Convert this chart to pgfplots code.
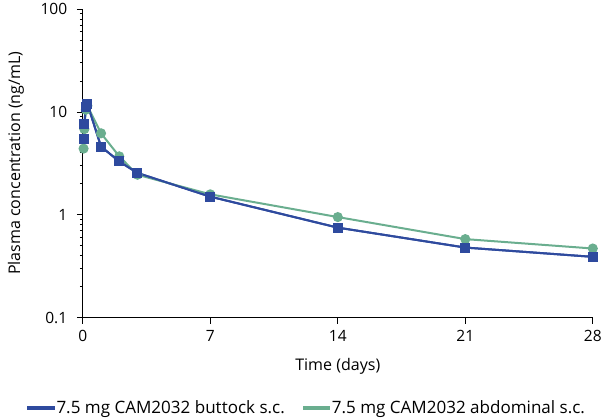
\documentclass[border=0pt]{standalone}
\usepackage{pgfplots}
\pgfplotsset{compat=1.18}
\usepackage{fontspec}
\setmainfont{Open Sans}
\definecolor{cblue}{HTML}{2E4A9E}
\definecolor{cgreen}{HTML}{6AAE8F}
\begin{document}
\begin{tikzpicture}
\begin{axis}[
  scale only axis, width=509pt, height=308pt,
  ymode=log, ymin=0.1, ymax=100,
  xmin=0, xmax=28,
  axis lines=left, axis line style={-, black, line width=0.8pt},
  xtick={0,7,14,21,28},
  ytick={0.1,1,10,100}, yticklabels={0.1,1,10,100},
  minor ytick={},
  tick style={black, line width=0.8pt},
  tick align=outside, major tick length=6pt,
  ticklabel style={font=\fontsize{15.5}{18}\selectfont},
  yticklabel style={xshift=-6pt},
  xticklabel style={yshift=-3pt},
  /pgf/number format/assume math mode=true,
  xlabel={Time (days)}, ylabel={Plasma concentration (ng/mL)},
  label style={font=\fontsize{16}{19}\selectfont},
  xlabel style={yshift=-10pt},
  ylabel style={inner sep=8pt, yshift=5pt},
  legend style={draw=none, at={(0.44,-0.255)}, anchor=north, legend columns=2,
     font=\fontsize{17}{20}\selectfont, /tikz/every even column/.append style={column sep=16pt}},
  legend image code/.code={\fill[#1, mark=none] (0pt,-1pt) rectangle (25pt,1pt);},
  clip=false,
]
\addplot[cblue, line width=2pt, mark=square*, mark size=4pt] coordinates {
 (0.042,5.4) (0.083,7.6) (0.167,11.2) (0.25,12) (1,4.6) (2,3.3) (3,2.55) (7,1.5) (14,0.75) (21,0.48) (28,0.39)};
\addlegendentry{7.5 mg CAM2032 buttock s.c.}
\addplot[cgreen, line width=2pt, mark=*, mark size=4pt] coordinates {
 (0.042,4.4) (0.083,6.8) (0.167,10.5) (0.25,11.5) (1,6.2) (2,3.7) (3,2.45) (7,1.58) (14,0.95) (21,0.58) (28,0.47)};
\addlegendentry{7.5 mg CAM2032 abdominal s.c.}
\addplot[cblue, line width=2pt, mark=square*, mark size=4pt, forget plot] coordinates {
 (0.042,5.4) (0.083,7.6) (0.167,11.2) (0.25,12) (1,4.6) (2,3.3) (3,2.55) (7,1.5) (14,0.75) (21,0.48) (28,0.39)};
\end{axis}
\end{tikzpicture}
\end{document}
